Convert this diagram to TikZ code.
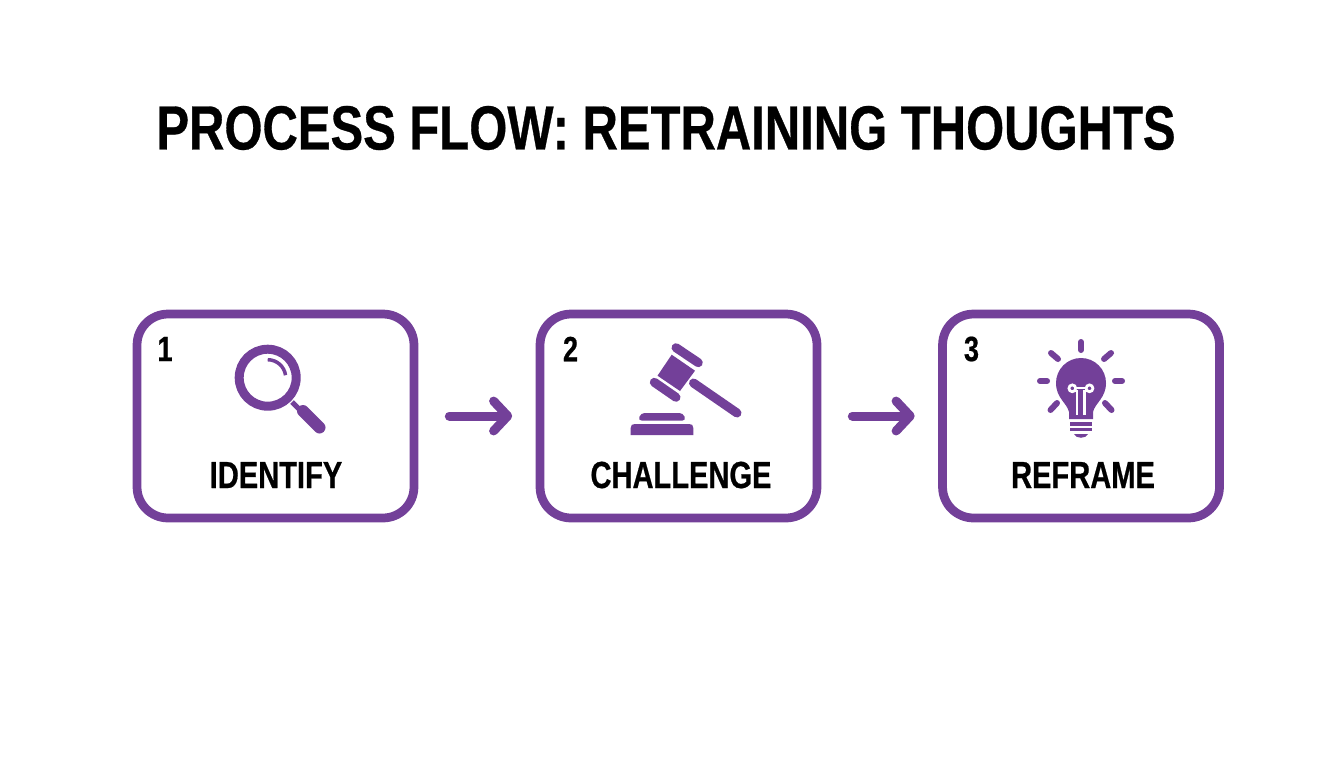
\documentclass[tikz,border=0pt]{standalone}
\usepackage{fontspec}
\setmainfont{Liberation Sans}
\newfontfamily\titlefont[FakeStretch=0.785, BoldFeatures={FakeBold=0.5}]{Liberation Sans}
\newfontfamily\labelfont[FakeStretch=0.77, BoldFeatures={FakeBold=0.5}]{Liberation Sans}
\usetikzlibrary{arrows.meta}
\definecolor{mypurple}{HTML}{734099}
\tikzset{
	stepbox/.style={draw=mypurple, line width=0.175cm, rounded corners=0.62cm, fill=white, minimum width=5.54cm, minimum height=4.08cm, inner sep=0pt},
	flowarrow/.style={mypurple, line width=0.18cm, line cap=round, -{Straight Barb[round,length=8pt,width=17pt]}},
	steplabel/.style={font=\labelfont\bfseries\fontsize{21.5}{24}\selectfont, text=black, inner sep=0pt},
	stepnum/.style={font=\labelfont\bfseries\fontsize{20}{24}\selectfont, text=black, inner sep=0pt},
	iconstroke/.style={mypurple, line cap=round, line width=#1*0.02cm},
	iconfill/.style={fill=mypurple, draw=none},
}
\begin{document}
\begin{tikzpicture}[x=0.02cm, y=-0.02cm]
	\useasboundingbox (0,0) rectangle (1344,768);
	\node [font=\titlefont\bfseries\fontsize{35.5}{40}\selectfont, inner sep=0pt] (title) at (666,128) {PROCESS FLOW: RETRAINING THOUGHTS};
	% boxes
	\node [stepbox] (box1) at (275.5,416) {};
	\node [stepbox] (box2) at (678.5,416) {};
	\node [stepbox] (box3) at (1081,416) {};
	\draw [flowarrow, shorten <=0.62cm, shorten >=0.47cm] (box1) -- (box2);
	\draw [flowarrow, shorten <=0.62cm, shorten >=0.47cm] (box2) -- (box3);
	% numbers and names
	\node [stepnum] (num1) at (165,349) {1};
	\node [stepnum] (num2) at (570.5,349) {2};
	\node [stepnum] (num3) at (971.5,349) {3};
	\node [steplabel] (name1) at (276,475) {IDENTIFY};
	\node [steplabel] (name2) at (681,475) {CHALLENGE};
	\node [steplabel] (name3) at (1083,475) {REFRAME};
	% magnifier
	\draw [iconstroke=9] (267.7,377.7) circle (28.5);
	\draw [iconstroke=3.5, line cap=butt] (267.7,359.7) arc [start angle=-90, end angle=-8, radius=18];
	\draw [iconstroke=5, line cap=butt] (292,402) -- (304,414);
	\draw [iconstroke=12] (303,411) -- (319.5,427.5);
	% gavel
	\draw [iconstroke=9] (676,347.7) -- (698.3,362.7);
	\draw [iconstroke=9] (654.3,382.3) -- (676,397.3);
	\fill [iconfill] (671.7,354.7) -- (695,370.7) -- (680,391) -- (657.5,375.7) -- cycle;
	\draw [iconstroke=9] (693.5,383) -- (737,413);
	\fill [iconfill, rounded corners=2pt] (638,420.5) -- (641,413) -- (683,413) -- (686,420.5) -- cycle;
	\fill [iconfill] (630.7,435) -- (630.7,428) .. controls (630.7,425) and (632,424) .. (635,424) -- (689,424) .. controls (692,424) and (693.3,425) .. (693.3,428) -- (693.3,435) -- cycle;
	% bulb
	\fill [iconfill] (1069,419) -- (1069,412) .. controls (1067,403) and (1056,398) .. (1056,383)
		arc [start angle=180, end angle=360, radius=25]
		.. controls (1106,398) and (1095,403) .. (1093,412) -- (1093,419) -- cycle;
	\draw [white, line width=0.055cm] (1072.3,388.3) circle (3.4) (1089.5,388.3) circle (3.4);
	\draw [white, line width=0.055cm] (1077,390) -- (1077,415) (1084.5,390) -- (1084.5,415) (1075,388) -- (1086.5,388);
	\draw [iconstroke=3.5, line cap=butt] (1070,424) -- (1092,424);
	\draw [iconstroke=3.5, line cap=butt] (1070,429.5) -- (1092,429.5);
	\fill [iconfill] (1074,434) -- (1088,434) .. controls (1086,439) and (1076,439) .. cycle;
	\draw [iconstroke=6] (1081,342) -- (1081,350);
	\draw [iconstroke=6] (1040,381) -- (1047,381);
	\draw [iconstroke=6] (1115,381) -- (1122,381);
	\draw [iconstroke=6] (1051,353) -- (1058,359);
	\draw [iconstroke=6] (1111,353) -- (1104,359);
	\draw [iconstroke=6] (1050.5,410) -- (1057,403);
	\draw [iconstroke=6] (1111.5,410) -- (1105,403);
\end{tikzpicture}
\end{document}
